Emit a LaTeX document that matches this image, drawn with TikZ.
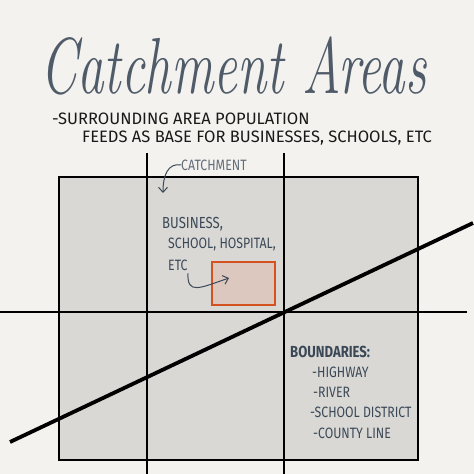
\documentclass[tikz,border=0pt]{standalone}
\usepackage{fontspec}
\newfontfamily\handfont{Fira Sans}
\newfontfamily\narrowfont{Fira Sans}[FakeStretch=0.82]
\usetikzlibrary{arrows.meta}
\definecolor{paper}{HTML}{F3F2EF}
\definecolor{block}{HTML}{D9D8D5}
\definecolor{ink}{HTML}{3B4957}
\definecolor{rust}{HTML}{D4521F}
\definecolor{rustfill}{HTML}{DCC8BF}
\tikzset{
  note/.style={anchor=base west,inner sep=0pt,text=ink,font=\narrowfont\fontsize{15}{15}\selectfont},
  small/.style={note,text=black!90,font=\handfont\fontsize{16.5}{16.5}\selectfont},
  pointer/.style={ink,line width=1,-{Straight Barb[length=5pt,width=9pt]}},
  road/.style={black,line width=2.6}
}
\begin{document}
\begin{tikzpicture}[x=1pt,y=-1pt]
\fill[paper](0,0)rectangle(474,474);
\useasboundingbox(0,0)rectangle(474,474);
% the blocks
\draw[road][fill=block](59,177)rectangle(418,460);
\draw[road](147,153)--(147,474);
\draw[road](284,153)--(284,474);
\draw[road](0,312)--(467,312);
\draw[black][line width=3.8](10,442)--(473,223);
% the site
\node (site) at (243.5,283.5) [draw=rust,fill=rustfill,line width=2,minimum width=63,minimum height=43,inner sep=0pt]{};
% texts
\node (title) at (40,93) [anchor=base west,inner sep=0pt,text=ink!90,yscale=1.5,transform shape]{\fontsize{53}{53}\selectfont\itshape Catchment Areas};
\node (surround) at (52,124) [small]{-SURROUNDING AREA POPULATION};
\node (feeds) at (82,142) [small]{FEEDS AS BASE FOR BUSINESSES, SCHOOLS, ETC};
\node (catch) at (181,170) [note,text=ink!80]{CATCHMENT};
\node (business) at (162,228) [note,font=\narrowfont\fontsize{16}{16}\selectfont]{BUSINESS,};
\node (school) at (168,248) [note]{SCHOOL, HOSPITAL,};
\node (etc) at (168,270) [note]{ETC};
\node (bound) at (290,357) [note,font=\narrowfont\bfseries\fontsize{16}{16}\selectfont]{BOUNDARIES:};
\node (highway) at (312,377) [note]{-HIGHWAY};
\node (river) at (313,397) [note]{-RIVER};
\node (district) at (310,417) [note]{-SCHOOL DISTRICT};
\node (county) at (313,438) [note]{-COUNTY LINE};
% arrows
\coordinate (catchend) at (163,193);
\coordinate (siteend) at (229,278);
\draw[pointer](catch.west)..controls(168,163)and(163,175)..(catchend);
\draw[pointer](etc.south west)++(20,3)..controls(187,295)and(200,288)..(siteend);
\end{tikzpicture}
\end{document}
